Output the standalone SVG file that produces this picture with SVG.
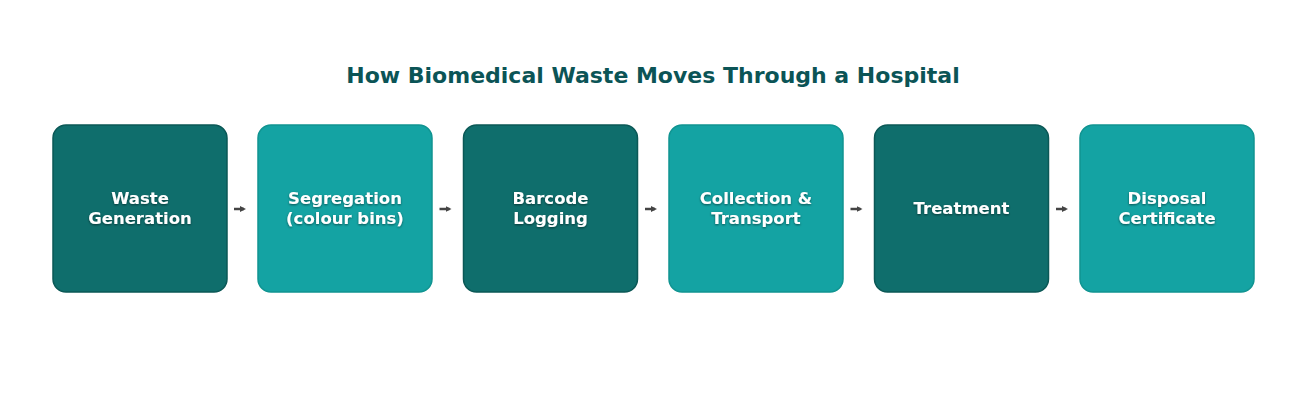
<svg xmlns="http://www.w3.org/2000/svg" width="1307" height="418" viewBox="0 0 1307 418">
<style>
.t{font-family:"DejaVu Sans",sans-serif;font-weight:bold;fill:#fff;font-size:16.5px;text-anchor:middle}
.d{fill:#0f6e6c;stroke:#0b5856;stroke-width:1.5}
.l{fill:#14a3a3;stroke:#109491;stroke-width:1.5}
.c{stroke:#444;stroke-width:2.5;fill:none;marker-end:url(#a)}
</style>
<defs>
<marker id="a" markerWidth="6" markerHeight="6" refX="4" refY="3" orient="auto" markerUnits="userSpaceOnUse"><path d="M0,0L6,3L0,6z" fill="#444"/></marker>
<filter id="s" x="-20%" y="-20%" width="140%" height="140%"><feDropShadow dx="0" dy="1" stdDeviation="1" flood-color="#000" flood-opacity="0.5"/></filter>
</defs>
<rect width="1307" height="418" fill="#fff"/>
<text x="653" y="83" style="font-family:'DejaVu Sans',sans-serif;font-weight:bold;font-size:22px;fill:#0b5456;text-anchor:middle">How Biomedical Waste Moves Through a Hospital</text>
<g id="n1"><rect class="d" x="53" y="125" width="174" height="167" rx="13"/><text class="t" filter="url(#s)" x="140" y="204">Waste</text><text class="t" filter="url(#s)" x="140" y="224">Generation</text></g>
<g id="n2"><rect class="l" x="258" y="125" width="174" height="167" rx="13"/><text class="t" filter="url(#s)" x="345" y="204">Segregation</text><text class="t" filter="url(#s)" x="345" y="224">(colour bins)</text></g>
<g id="n3"><rect class="d" x="463.5" y="125" width="174" height="167" rx="13"/><text class="t" filter="url(#s)" x="550.5" y="204">Barcode</text><text class="t" filter="url(#s)" x="550.5" y="224">Logging</text></g>
<g id="n4"><rect class="l" x="669" y="125" width="174" height="167" rx="13"/><text class="t" filter="url(#s)" x="756" y="204">Collection &amp;</text><text class="t" filter="url(#s)" x="756" y="224">Transport</text></g>
<g id="n5"><rect class="d" x="874.5" y="125" width="174" height="167" rx="13"/><text class="t" filter="url(#s)" x="961.5" y="214">Treatment</text></g>
<g id="n6"><rect class="l" x="1080" y="125" width="174" height="167" rx="13"/><text class="t" filter="url(#s)" x="1167" y="204">Disposal</text><text class="t" filter="url(#s)" x="1167" y="224">Certificate</text></g>
<g id="connectors">
<path class="c" d="M234,209H244"/>
<path class="c" d="M439.5,209H449.5"/>
<path class="c" d="M645,209H655"/>
<path class="c" d="M850.5,209H860.5"/>
<path class="c" d="M1056,209H1066"/>
</g>
</svg>
